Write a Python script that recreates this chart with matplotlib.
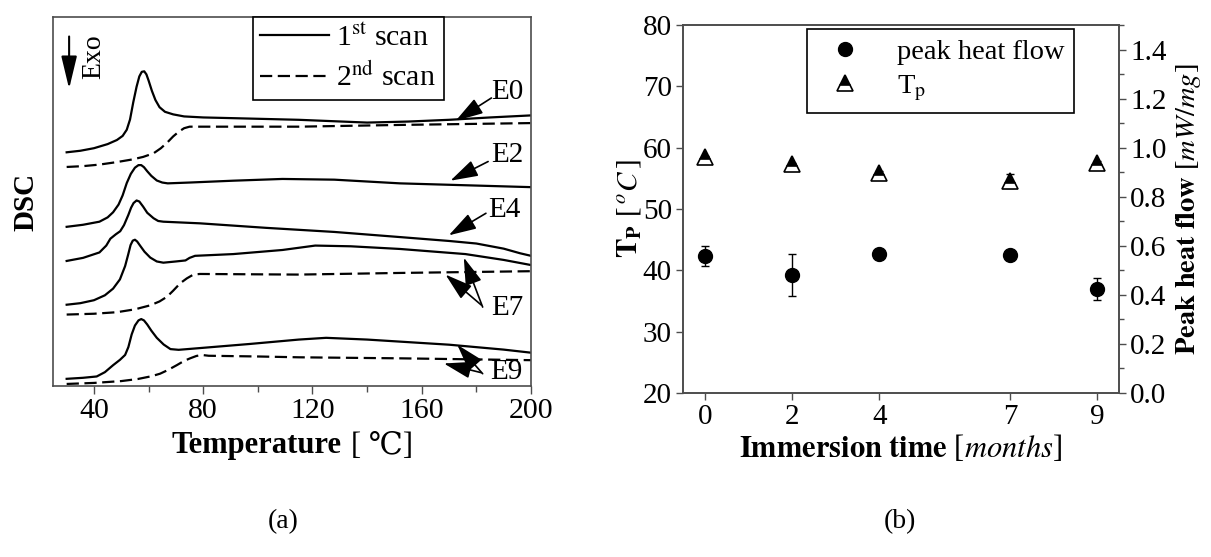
import matplotlib
matplotlib.use("Agg")
import matplotlib.pyplot as plt
from matplotlib.lines import Line2D
from matplotlib.ticker import MultipleLocator, FixedLocator
from matplotlib.offsetbox import TextArea, HPacker, AnchoredOffsetbox

plt.rcParams['font.family'] = ['Liberation Serif', 'DejaVu Serif']
plt.rcParams['mathtext.fontset'] = 'stix'

# ---------------- Panel (a) data: DSC curves (arbitrary offset units) ----------------
e0_1_T = [30, 35, 40, 45, 48.4, 50.5, 52, 53.2, 54.4, 55.6, 56.6, 57.5, 58.4, 59.2, 60, 61.2, 62.5, 64, 66, 69, 73, 80, 91, 115, 140, 155, 170, 185, 200]
e0_1_v = [228, 229.5, 232, 236, 240, 244, 250, 260, 277, 292, 302, 306.5, 307, 304, 298, 288, 279, 272, 267.5, 265, 263, 262, 261.3, 259.7, 257, 258, 259.7, 262, 264]
e0_2_T = [30, 36, 42, 48, 54, 58, 61.8, 64.5, 67, 69, 71, 73, 75, 80, 115, 152, 200]
e0_2_v = [213.7, 214.5, 216, 218.3, 221, 223.5, 227, 232, 238, 243.5, 248, 251.5, 253, 253, 253, 254.7, 256.5]

e2_T = [30, 36, 42, 45, 47, 49, 50.5, 52, 53.5, 55, 56.3, 57.3, 58.3, 59.5, 61, 63, 65, 67, 75, 91, 109, 128, 152, 200]
e2_v = [155.3, 157.3, 160.3, 164.5, 169.5, 177, 186, 198, 207, 213, 215.5, 215.5, 213.5, 209.5, 205, 200.5, 198.5, 197.7, 198.5, 200.3, 202, 201.3, 197.7, 194]

e4_T = [30, 36, 42, 44.5, 46, 48, 49.6, 51, 52.6, 53.6, 54.5, 55.6, 56.6, 58, 59.5, 61.8, 63.5, 65.4, 78.8, 103, 128, 152, 170, 180, 190, 196, 200]
e4_v = [122, 125, 130.3, 137, 143.7, 148, 151, 157, 167, 174, 178.5, 181, 180, 175, 169, 163.7, 161, 160.3, 158.7, 154.3, 150.3, 145.3, 141.5, 139, 134, 129.5, 127]

e7_1_T = [30, 35, 40, 44, 47, 49.5, 51.4, 52.5, 53.4, 54.2, 55, 55.8, 57, 58.5, 60.6, 63, 65.4, 70, 73.5, 75, 77, 91, 109, 121, 134, 152, 176, 190, 200]
e7_1_v = [79.3, 80.8, 83.7, 88.5, 95, 104, 117, 128, 137.5, 141.8, 142.7, 141, 136.5, 131, 125.3, 121.5, 120.3, 121.5, 122.5, 125, 127, 128.7, 132.7, 137, 136.3, 133.7, 128.7, 123, 118]
e7_2_T = [30, 40, 48.4, 55, 60.6, 64, 66.7, 69, 71.6, 74, 76.4, 78.8, 115, 152, 200]
e7_2_v = [69.7, 70.5, 72, 74.8, 78.7, 82.5, 87, 93, 100.3, 105, 108.7, 109.3, 108.7, 110.3, 112]

e9_1_T = [30, 36, 41, 44, 47, 49.5, 51.4, 52.6, 53.8, 55, 56.3, 57.3, 58.3, 59.5, 61, 63, 65.5, 68, 71, 78.8, 97, 115, 125, 140, 170, 190, 200]
e9_1_v = [7, 8, 9.3, 13.5, 20.3, 25.5, 30.3, 38, 50.3, 59, 64, 65.3, 64, 60, 54, 47, 40.5, 36, 35.3, 37, 41, 45.3, 47, 45.3, 40.3, 35.5, 32.5]
e9_2_T = [30, 40, 50, 56, 61, 64.2, 67, 70.3, 73, 75.2, 77.5, 79.5, 82, 100, 115, 152, 200]
e9_2_v = [2, 3, 4.8, 6.8, 9.5, 12, 15.5, 20.3, 24.5, 27, 29.3, 30.3, 29.5, 28.8, 28, 27, 25.2]

temp_ticks = [40, 80, 120, 160, 200]

# ---------------- Panel (b) data ----------------
months = [0, 2, 4, 7, 9]
month_labels = ['0', '2', '4', '7', '9']
tp_values = [58.4, 57.3, 55.9, 54.6, 57.5]
tp_err = [0.25, 0.25, 0.25, 1.1, 0.25]
peak_flow = [0.558, 0.482, 0.565, 0.561, 0.425]
peak_err_lo = [0.042, 0.088, 0.015, 0.012, 0.044]
peak_err_hi = [0.043, 0.083, 0.015, 0.012, 0.043]

W, H = 1211, 557
fig = plt.figure(figsize=(W / 100, H / 100), dpi=100)

def frac_box(x0, x1, r0, r1):
    return [x0 / W, (H - r1) / H, (x1 - x0) / W, (r1 - r0) / H]

spine_col = '0.3'
LFS = 22

# ================= Panel (a) =================
ax = fig.add_axes(frac_box(53, 531, 17, 386))
lw = 1.6
dash = (0, (5.5, 2.5))
ax.plot(e0_1_T, e0_1_v, color='k', lw=lw)
ax.plot(e0_2_T, e0_2_v, color='k', lw=lw, ls=dash)
ax.plot(e2_T, e2_v, color='k', lw=lw)
ax.plot(e4_T, e4_v, color='k', lw=lw)
ax.plot(e7_1_T, e7_1_v, color='k', lw=lw)
ax.plot(e7_2_T, e7_2_v, color='k', lw=lw, ls=dash)
ax.plot(e9_1_T, e9_1_v, color='k', lw=lw)
ax.plot(e9_2_T, e9_2_v, color='k', lw=lw, ls=dash)

ax.set_xlim(25, 200)
ax.set_ylim(0, 360)
ax.xaxis.set_major_locator(FixedLocator(temp_ticks))
ax.xaxis.set_minor_locator(MultipleLocator(20))
ax.set_yticks([])
ax.tick_params(axis='x', which='major', direction='out', length=6, width=1, labelsize=21.5, pad=3, color=spine_col)
ax.tick_params(axis='x', which='minor', direction='out', length=4, width=1, color=spine_col)
for s in ax.spines.values():
    s.set_color(spine_col)
    s.set_linewidth(1.2)

# x label: bold "Temperature" + regular "[ ℃]" (℃ taken from DejaVu Serif fallback)
xl_parts = HPacker(children=[
    TextArea('Temperature', textprops=dict(fontsize=LFS, fontweight='bold', family=['Liberation Serif'])),
    TextArea('[ ℃]', textprops=dict(fontsize=LFS, family=['Liberation Serif', 'DejaVu Serif'])),
], sep=7, align='baseline', pad=0)
xl_box = AnchoredOffsetbox(loc='center', child=xl_parts, pad=0, frameon=False,
                           bbox_to_anchor=(292 / W, 1 - 446 / H), bbox_transform=fig.transFigure,
                           borderpad=0)
fig.add_artist(xl_box)
ax.set_ylabel('DSC', fontsize=21, fontweight='bold', labelpad=10)

# Exo arrow
arr_exo = dict(arrowstyle='-|>,head_length=1.0,head_width=0.24', lw=1.5, color='k',
               mutation_scale=20, shrinkA=0, shrinkB=0)
ax.annotate('', xy=(30.9, 290), xytext=(30.9, 341), arrowprops=arr_exo)
ax.text(40.0, 321, 'Exo', rotation=90, fontsize=20, ha='center', va='center')

# Labels with arrows
arr = dict(arrowstyle='-|>,head_length=0.85,head_width=0.26', lw=1.2, color='k',
           mutation_scale=20, shrinkA=0, shrinkB=0)
EFS = 21
ax.annotate('', xy=(172.4, 258.7), xytext=(185.5, 281), arrowprops=arr)
ax.text(185.5, 287, 'E0', fontsize=EFS, ha='left', va='center')
ax.annotate('', xy=(170.5, 200.3), xytext=(184.3, 219), arrowprops=arr)
ax.text(185.5, 225.3, 'E2', fontsize=EFS, ha='left', va='center')
ax.annotate('', xy=(169.9, 147), xytext=(183.5, 168.5), arrowprops=arr)
ax.text(184.3, 172, 'E4', fontsize=EFS, ha='left', va='center')
ax.annotate('', xy=(175.4, 125.3), xytext=(182.3, 77), arrowprops=arr)
ax.annotate('', xy=(168.7, 108.7), xytext=(181.8, 79), arrowprops=arr)
ax.text(185.5, 76, 'E7', fontsize=EFS, ha='left', va='center')
ax.annotate('', xy=(173.0, 40.3), xytext=(182.3, 12), arrowprops=arr)
ax.annotate('', xy=(168.1, 22), xytext=(181.8, 13), arrowprops=arr)
ax.text(185.0, 14, 'E9', fontsize=EFS, ha='left', va='center')

leg_handles = [Line2D([], [], color='k', lw=lw), Line2D([], [], color='k', lw=lw, ls=dash)]
leg = ax.legend(leg_handles, [r'1$^{\mathrm{st}}$ scan', r'2$^{\mathrm{nd}}$ scan'],
                loc='upper left', bbox_to_anchor=(0.418, 1.0), borderaxespad=0,
                fontsize=21.5, handlelength=2.3, handletextpad=0.25, labelspacing=0.35,
                fancybox=False, edgecolor='k', framealpha=1, borderpad=0.25)
leg.get_frame().set_linewidth(1.2)

fig.text(283 / W, 1 - 522 / H, '(a)', fontsize=20, ha='center', va='center')

# ================= Panel (b) =================
bx = fig.add_axes(frac_box(683, 1119, 25, 393))
bx2 = bx.twinx()

bx.errorbar(months, tp_values, yerr=tp_err, fmt='none', ecolor='k', elinewidth=1, capsize=3, zorder=2)
bx.plot(months, tp_values, ls='none', marker='^', markersize=11, fillstyle='top',
        markerfacecolor='k', markerfacecoloralt='white', markeredgecolor='k', markeredgewidth=1.2, zorder=3)
bx.set_xlim(-0.5, 9.5)
bx.set_ylim(20, 80)
bx.set_yticks(range(20, 81, 10))
bx.set_xticks(months)
bx.set_xticklabels(month_labels)

bx2.errorbar(months, peak_flow, yerr=[peak_err_lo, peak_err_hi], fmt='o', color='k',
             markersize=10, ecolor='k', elinewidth=1, capsize=3)
bx2.set_ylim(0, 1.5)
bx2.yaxis.set_major_locator(FixedLocator([0.0, 0.2, 0.4, 0.6, 0.8, 1.0, 1.2, 1.4]))
bx2.yaxis.set_minor_locator(MultipleLocator(0.1))
bx2.set_yticklabels(['0.0', '0.2', '0.4', '0.6', '0.8', '1.0', '1.2', '1.4'])

for a in (bx, bx2):
    for s in a.spines.values():
        s.set_color(spine_col)
        s.set_linewidth(1.2)
    a.tick_params(which='major', direction='out', length=5, width=1, labelsize=21, color=spine_col, pad=3)
    a.tick_params(which='minor', direction='out', length=3.5, width=1, color=spine_col)
bx.tick_params(axis='y', which='minor', left=False)

bx.set_xlabel(r'$\mathbf{Immersion\ time}$ [$months$]', fontsize=LFS, labelpad=2)
bx.set_ylabel(r'$\mathbf{T_P}$ [$\,^o C\,$]', fontsize=21, labelpad=0)
bx2.set_ylabel(r'$\mathbf{Peak\ heat\ flow}$ [$mW/mg$]', fontsize=20.5, labelpad=5)

h1 = Line2D([], [], ls='none', marker='o', color='k', markersize=10)
h2 = Line2D([], [], ls='none', marker='^', markersize=11, fillstyle='top', markerfacecolor='k',
            markerfacecoloralt='white', markeredgecolor='k', markeredgewidth=1.2)
leg2 = bx2.legend([h1, h2], ['peak heat flow', r'T$_{\mathrm{p}}$'], loc='upper left',
                  bbox_to_anchor=(0.284, 0.989), borderaxespad=0, fontsize=20.5,
                  handlelength=2.0, handletextpad=0.8, labelspacing=0.3,
                  fancybox=False, edgecolor='k', framealpha=1, borderpad=0.35)
leg2.get_frame().set_linewidth(1.2)

fig.text(900 / W, 1 - 522 / H, '(b)', fontsize=20, ha='center', va='center')

fig.savefig('out.png', dpi=100)
